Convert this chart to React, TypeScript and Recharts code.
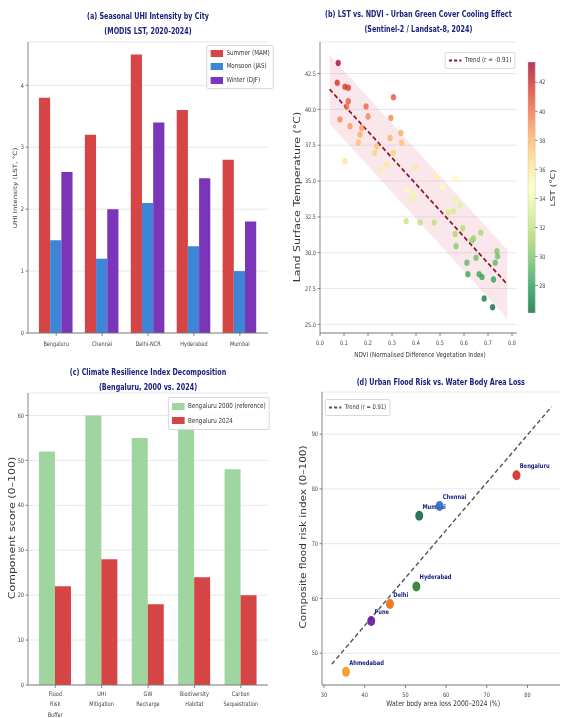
import React from 'react';
import {
  BarChart,
  Bar,
  XAxis,
  YAxis,
  CartesianGrid,
  ComposedChart,
  Scatter,
  Line,
  Area,
} from 'recharts';

// (a) seasonal UHI
const cities = ['Bengaluru', 'Chennai', 'Delhi-NCR', 'Hyderabad', 'Mumbai'];
const summerUhi = [3.8, 3.2, 4.5, 3.6, 2.8];
const monsoonUhi = [1.5, 1.2, 2.1, 1.4, 1.0];
const winterUhi = [2.6, 2.0, 3.4, 2.5, 1.8];
const uhiTicks = [0, 1, 2, 3, 4];

// (b) LST vs NDVI
const ndvi = [
  0.076, 0.072, 0.104, 0.118, 0.118, 0.111, 0.083, 0.125, 0.104, 0.192,
  0.2, 0.174, 0.167, 0.16, 0.236, 0.229, 0.306, 0.295, 0.292, 0.337,
  0.34, 0.306, 0.25, 0.278, 0.4, 0.36, 0.38, 0.39, 0.487, 0.51,
  0.563, 0.563, 0.556, 0.584, 0.535, 0.359, 0.417, 0.476, 0.595, 0.563,
  0.567, 0.64, 0.633, 0.67, 0.65, 0.612, 0.616, 0.663, 0.675, 0.723,
  0.737, 0.74, 0.73, 0.684, 0.719,
];
const lst = [
  43.24, 41.85, 41.57, 41.5, 40.57, 40.2, 39.3, 38.83, 36.4, 40.2,
  39.5, 38.7, 38.25, 37.67, 37.43, 36.97, 40.85, 39.4, 38.0, 38.36,
  37.67, 36.97, 35.8, 36.15, 36.0, 34.4, 33.7, 34.1, 35.3, 34.6,
  35.2, 33.7, 32.9, 33.3, 32.8, 32.2, 32.1, 32.1, 31.7, 31.3,
  30.46, 31.0, 30.85, 31.4, 29.65, 29.3, 28.5, 28.5, 28.3, 28.14,
  30.1, 29.75, 29.3, 26.8, 26.2,
];
const trendNdvi = [0.04, 0.78];
const trendLst = [41.4, 27.8];
const bandLow = [39.0, 25.4];
const bandHigh = [43.8, 30.2];
const ndviTicks = [0, 0.1, 0.2, 0.3, 0.4, 0.5, 0.6, 0.7, 0.8];
const lstTicks = [25, 27.5, 30, 32.5, 35, 37.5, 40, 42.5];
const cbarMin = 26.1;
const cbarMax = 43.4;
const cbarTicks = [28, 30, 32, 34, 36, 38, 40, 42];

// (c) resilience components
const components = ['Flood\nRisk\nBuffer', 'UHI\nMitigation', 'GW\nRecharge', 'Biodiversity\nHabitat', 'Carbon\nSequestration'];
const score2000 = [52, 60, 55, 58, 48];
const score2024 = [22, 28, 18, 24, 20];
const scoreTicks = [0, 10, 20, 30, 40, 50, 60];

// (d) flood risk vs water loss
const floodCities = ['Ahmedabad', 'Pune', 'Delhi', 'Hyderabad', 'Mumbai', 'Chennai', 'Bengaluru'];
const waterLoss = [35.4, 41.6, 46.2, 52.7, 53.4, 58.4, 77.3];
const floodRisk = [46.6, 55.9, 59.0, 62.2, 75.1, 76.9, 82.5];
const floodColors = ['#f39a1e', '#6a1b9a', '#e8700e', '#2e7d32', '#1b6b55', '#2f6fc6', '#d32f2f'];
const floodTrendX = [31.9, 85.9];
const floodTrendY = [48.0, 95.0];
const lossTicks = [30, 40, 50, 60, 70, 80];
const riskTicks = [50, 60, 70, 80, 90];

const FONT = "'DejaVu Sans', sans-serif";
const NAVY = '#1a237e';
const SX = 0.8;
const INNER_W = 561 / SX;
const TICK = { fontSize: 6.2, fill: '#444', fontFamily: FONT };
const AXIS = { stroke: '#777', strokeWidth: 1 };
const GRID = '#e4e4e4';

const RDYLGN = ['#a50026', '#d73027', '#f46d43', '#fdae61', '#fee08b', '#ffffbf', '#d9ef8b', '#a6d96a', '#66bd63', '#1a9850', '#006837'];

const hex = (c: string) => [1, 3, 5].map((i) => parseInt(c.slice(i, i + 2), 16));
const lstColor = (v: number) => {
  const t = Math.min(1, Math.max(0, (v - cbarMin) / (cbarMax - cbarMin)));
  const p = (1 - t) * 10;
  const i = Math.min(9, Math.floor(p));
  const f = p - i;
  const a = hex(RDYLGN[i]);
  const b = hex(RDYLGN[i + 1]);
  const m = a.map((x, k) => Math.round(x + (b[k] - x) * f));
  return `rgb(${m[0]},${m[1]},${m[2]})`;
};

const uhiData = cities.map((city, i) => ({
  city,
  summer: summerUhi[i],
  monsoon: monsoonUhi[i],
  winter: winterUhi[i],
}));
const lstPoints = ndvi.map((x, i) => ({ x, y: lst[i] }));
const trendRows = trendNdvi.map((x, i) => ({ x, trend: trendLst[i], band: [bandLow[i], bandHigh[i]] }));
const cbarData = [{ name: 'cbar', range: [cbarMin, cbarMax] }];
const crData = components.map((name, i) => ({ name, y2000: score2000[i], y2024: score2024[i] }));
const floodPoints = floodCities.map((name, i) => ({ name, x: waterLoss[i], y: floodRisk[i], color: floodColors[i] }));
const floodTrendRows = floodTrendX.map((x, i) => ({ x, trend: floodTrendY[i] }));

const Title = ({ cx, top, lines }: { cx: number; top: number; lines: string[] }) => (
  <div
    style={{
      position: 'absolute',
      left: cx - 250,
      width: 500,
      top,
      textAlign: 'center',
      fontFamily: FONT,
      fontWeight: 'bold',
      fontSize: 8,
      lineHeight: '14.5px',
      color: NAVY,
    }}
  >
    {lines.map((l) => (
      <div key={l}>{l}</div>
    ))}
  </div>
);

const VLabel = ({ x, y, text, size }: { x: number; y: number; text: string; size: number }) => (
  <div
    style={{
      position: 'absolute',
      left: x,
      top: y,
      transform: 'translate(-50%, -50%) rotate(-90deg)',
      whiteSpace: 'nowrap',
      fontFamily: FONT,
      fontSize: size,
      color: '#333',
    }}
  >
    {text}
  </div>
);

const HLabel = ({ x, y, text, size }: { x: number; y: number; text: string; size: number }) => (
  <div
    style={{
      position: 'absolute',
      left: x,
      top: y,
      transform: 'translate(-50%, -50%)',
      whiteSpace: 'nowrap',
      fontFamily: FONT,
      fontSize: size,
      color: '#333',
    }}
  >
    {text}
  </div>
);

type LegendItem = { label: string; color: string; dash?: boolean };

const LegendBox = ({ left, top, items, size, rowH }: { left: number; top: number; items: LegendItem[]; size: number; rowH: number }) => (
  <div
    style={{
      position: 'absolute',
      left,
      top,
      border: '1px solid #d4d4d4',
      borderRadius: 2,
      background: 'rgba(255,255,255,0.85)',
      padding: '1px 4px',
      fontFamily: FONT,
      fontSize: size,
      color: '#333',
      lineHeight: `${rowH}px`,
    }}
  >
    {items.map((it) => (
      <div key={it.label} style={{ display: 'flex', alignItems: 'center', whiteSpace: 'nowrap' }}>
        <svg width={16} height={7} style={{ marginRight: 4 }}>
          {it.dash ? (
            <line x1={0} y1={3.5} x2={16} y2={3.5} stroke={it.color} strokeWidth={1.8} strokeDasharray="4 2.5" />
          ) : (
            <rect x={0} y={0} width={16} height={7} fill={it.color} />
          )}
        </svg>
        {it.label}
      </div>
    ))}
  </div>
);

const MultiTick = (props: any) => {
  const { x, y, payload } = props;
  const lines = String(payload.value).split('\n');
  return (
    <text x={x} y={y + 6} textAnchor="middle" {...TICK}>
      {lines.map((l, i) => (
        <tspan key={i} x={x} dy={i === 0 ? 0 : 10.5}>
          {l}
        </tspan>
      ))}
    </text>
  );
};

const LstDot = (p: any) => (
  <circle cx={p.cx} cy={p.cy} r={3} fill={lstColor(p.payload.y)} fillOpacity={0.78} stroke={lstColor(p.payload.y)} strokeWidth={0.4} />
);

const CityDot = (p: any) => (
  <g>
    <circle cx={p.cx} cy={p.cy} r={5} fill={p.payload.color} fillOpacity={0.92} />
    <text x={p.cx + 4} y={p.cy - 7} fontSize={6.5} fontWeight="bold" fill={NAVY} fontFamily={FONT}>
      {p.payload.name}
    </text>
  </g>
);

export default function App() {
  return (
    <div style={{ position: 'absolute', left: 0, top: 0, width: 561, height: 718, overflow: 'hidden', background: '#fff' }}>
      <div style={{ position: 'relative', width: INNER_W, height: 718, transform: `scaleX(${SX})`, transformOrigin: '0 0' }}>
        {/* (a) */}
        <div style={{ position: 'absolute', left: 0, top: 0 }}>
          <BarChart
            width={350}
            height={360}
            data={uhiData}
            margin={{ top: 42, right: 15, bottom: 7, left: 15 }}
            barCategoryGap="12.5%"
            barGap={0}
          >
            <CartesianGrid vertical={false} stroke={GRID} />
            <XAxis
              dataKey="city"
              height={20}
              interval={0}
              padding={{ left: 6.5, right: 6.5 }}
              tick={TICK}
              tickSize={3}
              tickMargin={6}
              axisLine={AXIS}
              tickLine={AXIS}
            />
            <YAxis
              width={20}
              domain={[0, 4.7]}
              ticks={uhiTicks}
              allowDataOverflow
              tick={TICK}
              tickSize={3}
              axisLine={AXIS}
              tickLine={AXIS}
            />
            <Bar dataKey="summer" fill="#d64545" isAnimationActive={false} />
            <Bar dataKey="monsoon" fill="#3d85d6" isAnimationActive={false} />
            <Bar dataKey="winter" fill="#7b35b8" isAnimationActive={false} />
          </BarChart>
        </div>

        {/* (b) */}
        <div style={{ position: 'absolute', left: 350, top: 0 }}>
          <ComposedChart width={300} height={360} data={trendRows} margin={{ top: 42, right: 4, bottom: 7, left: 25 }}>
            <CartesianGrid vertical={false} stroke={GRID} />
            <XAxis
              type="number"
              dataKey="x"
              domain={[0, 0.82]}
              ticks={ndviTicks}
              allowDataOverflow
              tickFormatter={(v: number) => v.toFixed(1)}
              height={20}
              tick={TICK}
              tickSize={3}
              tickMargin={5}
              axisLine={AXIS}
              tickLine={AXIS}
            />
            <YAxis
              type="number"
              dataKey="y"
              domain={[24.4, 44.7]}
              ticks={lstTicks}
              allowDataOverflow
              tickFormatter={(v: number) => v.toFixed(1)}
              width={25}
              tick={TICK}
              tickSize={3}
              axisLine={AXIS}
              tickLine={AXIS}
            />
            <Area type="linear" dataKey="band" fill="#e8879b" fillOpacity={0.2} stroke="none" isAnimationActive={false} />
            <Scatter data={lstPoints} shape={LstDot} isAnimationActive={false} />
            <Line type="linear" dataKey="trend" stroke="#8b1a2b" strokeWidth={2} strokeDasharray="5 3" dot={false} isAnimationActive={false} />
          </ComposedChart>
        </div>

        {/* colorbar */}
        <div style={{ position: 'absolute', left: 650, top: 0 }}>
          <BarChart width={60} height={360} data={cbarData} margin={{ top: 62, right: 16, bottom: 47, left: 10 }} barCategoryGap={0}>
            <defs>
              <linearGradient id="cbarGrad" x1="0" y1="0" x2="0" y2="1">
                {RDYLGN.map((c, i) => (
                  <stop key={c} offset={i / 10} stopColor={c} stopOpacity={0.78} />
                ))}
              </linearGradient>
            </defs>
            <XAxis dataKey="name" hide />
            <YAxis
              orientation="right"
              domain={[cbarMin, cbarMax]}
              ticks={cbarTicks}
              allowDataOverflow
              width={25}
              tick={TICK}
              tickSize={3}
              axisLine={false}
              tickLine={AXIS}
            />
            <Bar dataKey="range" fill="url(#cbarGrad)" stroke="#bbb" strokeWidth={0.5} isAnimationActive={false} />
          </BarChart>
        </div>

        {/* (c) */}
        <div style={{ position: 'absolute', left: 0, top: 360 }}>
          <BarChart
            width={350}
            height={358}
            data={crData}
            margin={{ top: 33, right: 15, bottom: 3, left: 15 }}
            barCategoryGap="15%"
            barGap={0}
          >
            <CartesianGrid vertical={false} stroke={GRID} />
            <XAxis
              dataKey="name"
              height={30}
              interval={0}
              padding={{ left: 5, right: 5 }}
              tick={<MultiTick />}
              tickSize={3}
              axisLine={AXIS}
              tickLine={AXIS}
            />
            <YAxis
              width={20}
              domain={[0, 65]}
              ticks={scoreTicks}
              allowDataOverflow
              tick={TICK}
              tickSize={3}
              axisLine={AXIS}
              tickLine={AXIS}
            />
            <Bar dataKey="y2000" fill="#9fd59f" isAnimationActive={false} />
            <Bar dataKey="y2024" fill="#d64545" isAnimationActive={false} />
          </BarChart>
        </div>

        {/* (d) */}
        <div style={{ position: 'absolute', left: 350, top: 360 }}>
          <ComposedChart width={351.25} height={358} data={floodTrendRows} margin={{ top: 32, right: 1.25, bottom: 13, left: 27.5 }}>
            <CartesianGrid vertical={false} stroke={GRID} />
            <XAxis
              type="number"
              dataKey="x"
              domain={[29.5, 88]}
              ticks={lossTicks}
              allowDataOverflow
              height={20}
              tick={TICK}
              tickSize={3}
              tickMargin={5}
              axisLine={AXIS}
              tickLine={AXIS}
            />
            <YAxis
              type="number"
              dataKey="y"
              domain={[44.2, 97.7]}
              ticks={riskTicks}
              allowDataOverflow
              width={25}
              tick={TICK}
              tickSize={3}
              axisLine={AXIS}
              tickLine={AXIS}
            />
            <Line type="linear" dataKey="trend" stroke="#555" strokeWidth={1.6} strokeDasharray="5 3" dot={false} isAnimationActive={false} />
            <Scatter data={floodPoints} shape={CityDot} isAnimationActive={false} />
          </ComposedChart>
        </div>

        <Title cx={185} top={10} lines={['(a) Seasonal UHI Intensity by City', '(MODIS LST, 2020-2024)']} />
        <Title cx={523} top={8} lines={['(b) LST vs. NDVI - Urban Green Cover Cooling Effect', '(Sentinel-2 / Landsat-8, 2024)']} />
        <Title cx={185} top={366} lines={['(c) Climate Resilience Index Decomposition', '(Bengaluru, 2000 vs. 2024)']} />
        <Title cx={551} top={376} lines={['(d) Urban Flood Risk vs. Water Body Area Loss']} />

        <VLabel x={18.75} y={188} text="UHI Intensity (LST, °C)" size={7.2} />
        <VLabel x={371} y={197} text="Land Surface Temperature (°C)" size={11} />
        <VLabel x={691} y={188} text="LST (°C)" size={9} />
        <VLabel x={14.6} y={528} text="Component score (0–100)" size={11} />
        <VLabel x={379} y={537} text="Composite flood risk index (0–100)" size={10.5} />

        <HLabel x={525} y={355} text="NDVI (Normalised Difference Vegetation Index)" size={7} />
        <HLabel x={554} y={703} text="Water body area loss 2000–2024 (%)" size={7.7} />

        <LegendBox
          left={258}
          top={45}
          size={7}
          rowH={13.3}
          items={[
            { label: 'Summer (MAM)', color: '#d64545' },
            { label: 'Monsoon (JAS)', color: '#3d85d6' },
            { label: 'Winter (DJF)', color: '#7b35b8' },
          ]}
        />
        <LegendBox left={556} top={52} size={7} rowH={13} items={[{ label: 'Trend (r = -0.91)', color: '#8b1a2b', dash: true }]} />
        <LegendBox
          left={210}
          top={397}
          size={7}
          rowH={14.5}
          items={[
            { label: 'Bengaluru 2000 (reference)', color: '#9fd59f' },
            { label: 'Bengaluru 2024', color: '#d64545' },
          ]}
        />
        <LegendBox left={406} top={399} size={6.5} rowH={13} items={[{ label: 'Trend (r = 0.91)', color: '#555', dash: true }]} />
      </div>
    </div>
  );
}
